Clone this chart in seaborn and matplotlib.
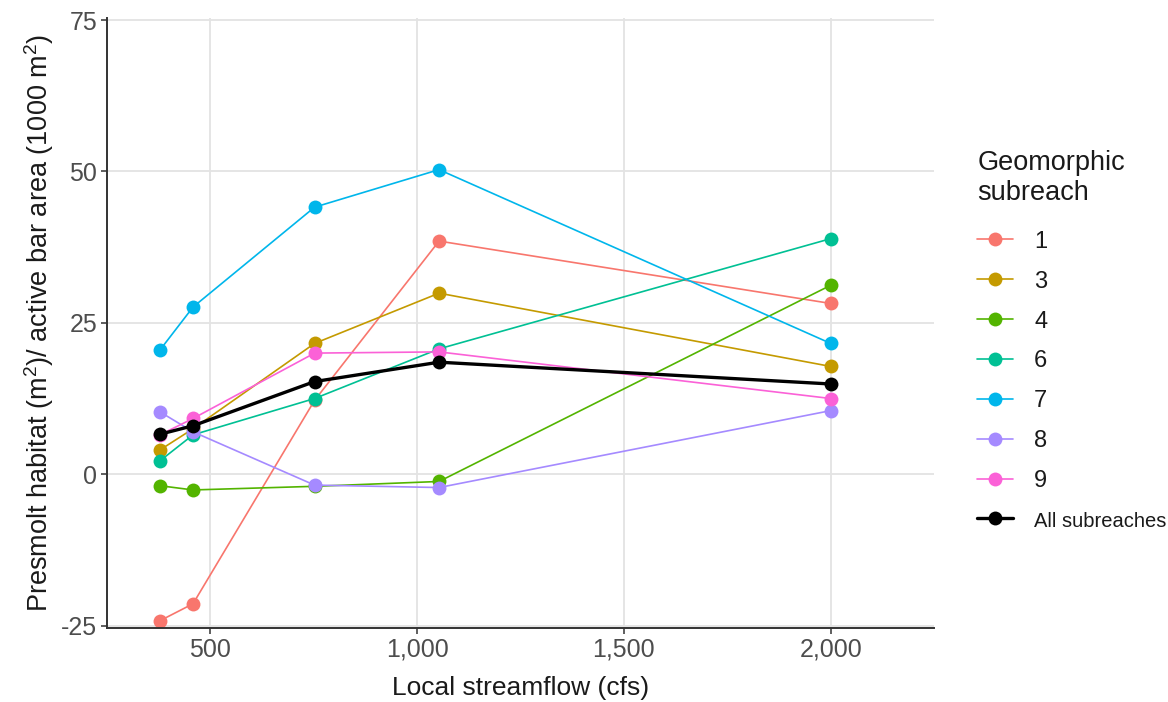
import matplotlib
matplotlib.use("Agg")
import matplotlib.pyplot as plt
import matplotlib.ticker as mticker
import seaborn as sns
import pandas as pd

# ---- data ----
flows = [378, 458, 752, 1053, 2000]
subreaches = ["1", "3", "4", "6", "7", "8", "9"]
s1 = [-24.2, -21.4, 12.2, 38.5, 28.2]
s3 = [4.0, 7.5, 21.6, 29.9, 17.8]
s4 = [-1.9, -2.6, -2.0, -1.2, 31.2]
s6 = [2.2, 6.5, 12.5, 20.7, 38.9]
s7 = [20.5, 27.6, 44.1, 50.3, 21.6]
s8 = [10.3, 7.0, -1.8, -2.2, 10.5]
s9 = [6.5, 9.2, 20.0, 20.2, 12.5]
all_sub = [6.6, 8.0, 15.3, 18.5, 14.9]
colors = ["#F8766D", "#C49A00", "#53B400", "#00C094", "#00B6EB", "#A58AFF", "#FB61D7"]

series = [s1, s3, s4, s6, s7, s8, s9]
rows = []
for name, vals in zip(subreaches, series):
    for f, v in zip(flows, vals):
        rows.append({"flow": f, "value": v, "subreach": name})
df = pd.DataFrame(rows)
df_all = pd.DataFrame({"flow": flows, "value": all_sub, "subreach": "All subreaches"})

sns.set_theme(style="white")
plt.rcParams["font.family"] = ["Liberation Sans", "DejaVu Sans"]
plt.rcParams["mathtext.default"] = "regular"
plt.rcParams["axes.unicode_minus"] = False

fig = plt.figure(figsize=(11.68, 7.02), dpi=100)
ax = fig.add_axes([0.0916, 0.1054, 0.7081, 0.8686])

sns.lineplot(data=df, x="flow", y="value", hue="subreach", hue_order=subreaches,
             palette=dict(zip(subreaches, colors)), marker="o", markersize=10,
             markeredgewidth=0, linewidth=1.2, ax=ax, estimator=None, sort=False)
sns.lineplot(data=df_all, x="flow", y="value", color="black", marker="o",
             markersize=10, markeredgewidth=0, linewidth=2.4, ax=ax,
             estimator=None, sort=False, label="All subreaches")

ax.set_xlim(250, 2250)
ax.set_ylim(-25.4, 75.3)
ax.set_xticks([500, 1000, 1500, 2000])
ax.set_yticks([-25, 0, 25, 50, 75])
ax.xaxis.set_major_formatter(mticker.FuncFormatter(lambda v, p: f"{int(v):,}"))
ax.grid(True, color="#E3E3E3", linewidth=1.3)
ax.set_axisbelow(True)
for s in ["top", "right"]:
    ax.spines[s].set_visible(False)
for s in ["left", "bottom"]:
    ax.spines[s].set_color("#333333")
    ax.spines[s].set_linewidth(1.4)
ax.tick_params(axis="both", which="major", length=4, width=1.1, color="#333333",
               labelsize=18, labelcolor="#4D4D4D", bottom=True, left=True, pad=3)

ax.set_xlabel("Local streamflow (cfs)", fontsize=19, color="#1A1A1A", labelpad=10)
ax.set_ylabel("Presmolt habitat (m$^2$)/ active bar area (1000 m$^2$)", fontsize=19.5,
              color="#1A1A1A", labelpad=4)

handles, labels = ax.get_legend_handles_labels()
leg = ax.legend(handles, labels, title="Geomorphic\nsubreach", loc="upper left",
                bbox_to_anchor=(0.8186, 0.816), bbox_transform=fig.transFigure,
                frameon=False, fontsize=17, title_fontsize=19.5, labelspacing=0.76,
                handlelength=1.5, handletextpad=0.9, alignment="left")
leg._legend_box.sep = 0.76 * 17 + 4.5
for t in leg.get_texts():
    t.set_color("#1A1A1A")
leg.get_texts()[-1].set_fontsize(14.5)
leg.get_title().set_color("#1A1A1A")

fig.savefig("out.png", dpi=100)
